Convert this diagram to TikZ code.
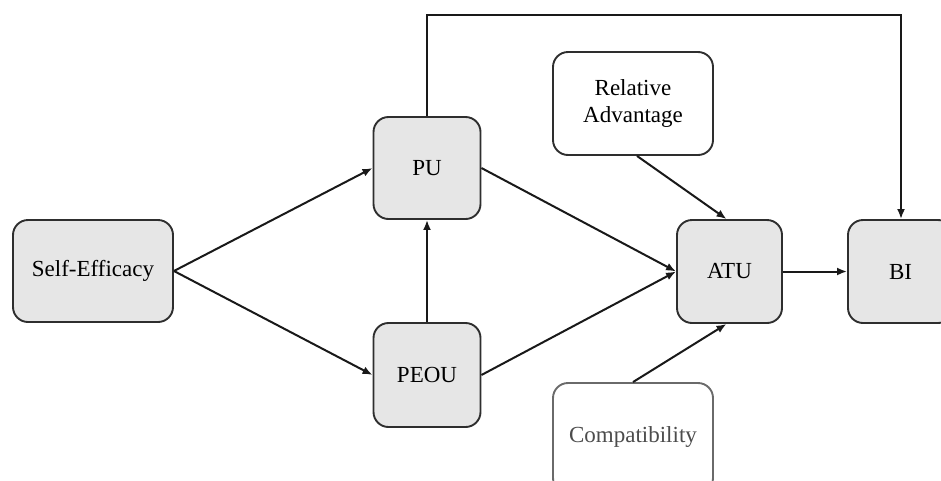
\documentclass[tikz,border=0pt]{standalone}
\usepackage{fontspec}
\setmainfont{Liberation Serif}
\usetikzlibrary{arrows.meta}
\definecolor{boxfill}{HTML}{E6E6E6}
\definecolor{boxline}{HTML}{2E2E2E}
\definecolor{softline}{HTML}{6A6A6A}
\tikzset{
  x=1pt, y=-1pt,
  box/.style={draw=boxline, line width=1.9pt, rounded corners=15pt, fill=boxfill,
    inner sep=0pt, align=center, font=\fontsize{23}{27}\selectfont},
  whitebox/.style={box, fill=white},
  link/.style={draw=black!90, line width=2pt, -{Latex[length=10pt,width=8pt]}},
}
\begin{document}
\begin{tikzpicture}
\useasboundingbox (0,0) rectangle (941,480);
\clip (0,0) rectangle (941,480);

% constructs
\node[box, minimum width=160pt, minimum height=102pt] (se) at (93,271) {Self-Efficacy};
\node[box, minimum width=107pt, minimum height=102pt] (pu) at (427,168) {PU};
\node[box, minimum width=107pt, minimum height=104pt] (peou) at (427,375) {PEOU};
\node[whitebox, minimum width=160pt, minimum height=103pt] (ra) at (633,103.5) {Relative\\Advantage};
\node[whitebox, draw=softline, minimum width=160pt, minimum height=110pt] (cp) at (633,438) {};
\node[text=black!70, font=\fontsize{23}{27}\selectfont] (cpt) at (633,437) {Compatibility};
\node[box, minimum width=105pt, minimum height=103pt] (atu) at (729.5,271.5) {ATU};
\node[box, minimum width=105pt, minimum height=103pt] (bi) at (900.5,271.5) {BI};

% paths
\coordinate (top1) at (427,15);
\coordinate (top2) at (901,15);
\draw[link] (se.east) -- (pu.west);
\draw[link] (se.east) -- (peou.west);
\draw[link] (peou.north) -- (pu.south);
\draw[link] (pu.east) -- (atu.west);
\draw[link] (peou.east) -- (atu.west);
\draw[link] ([xshift=4pt]ra.south) -- ([xshift=-3pt]atu.north);
\draw[link] (cp.north) -- ([xshift=-3pt]atu.south);
\draw[link] (atu.east) -- (bi.west);
\draw[link] (pu.north) -- (top1) -- (top2) -- ([xshift=0.5pt]bi.north);
\end{tikzpicture}
\end{document}
